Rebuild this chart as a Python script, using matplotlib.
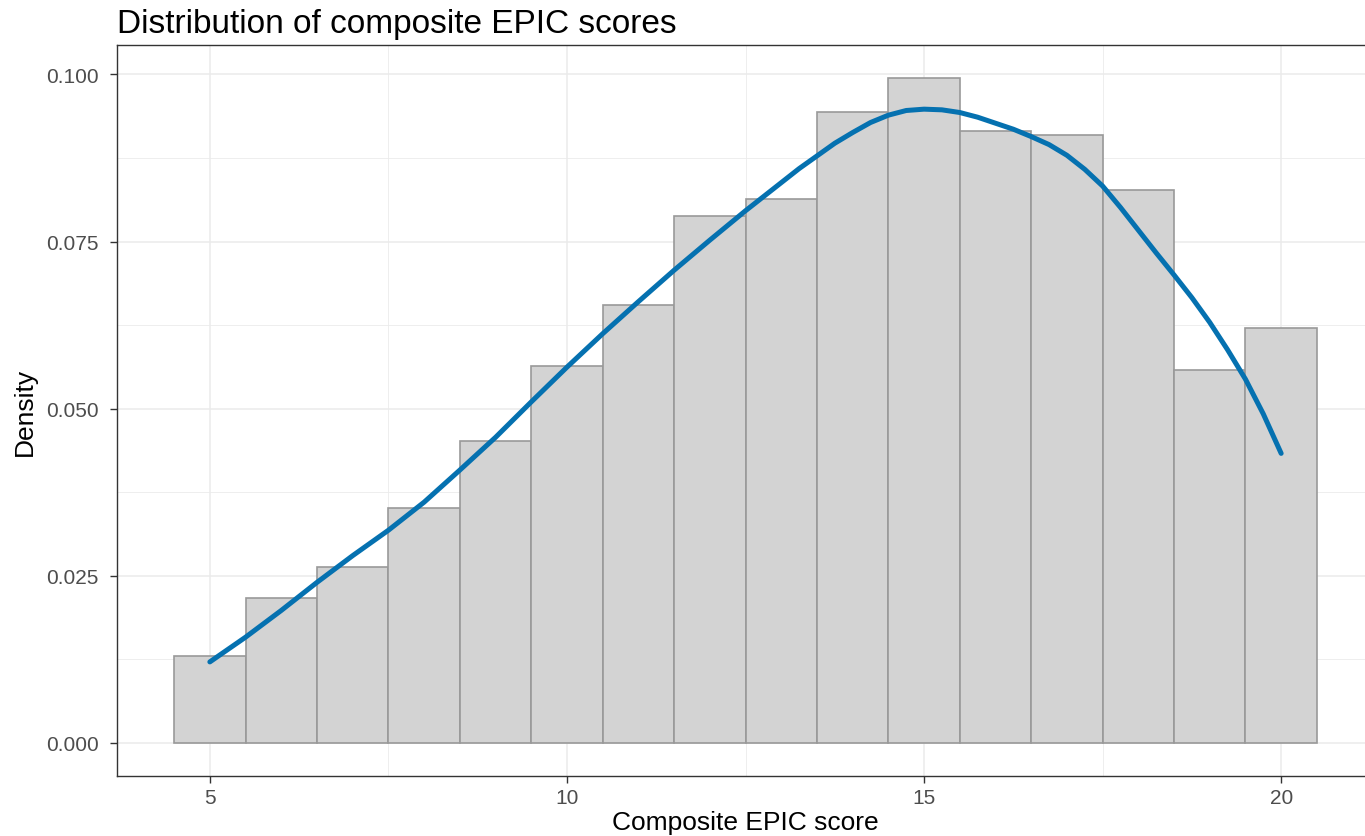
import matplotlib
matplotlib.use("Agg")
import matplotlib.pyplot as plt
from matplotlib.ticker import MultipleLocator

plt.rcParams['font.family'] = ['Liberation Sans', 'DejaVu Sans']

# histogram (bin width 1, centred on integer scores), density scale
bin_centers = [5, 6, 7, 8, 9, 10, 11, 12, 13, 14, 15, 16, 17, 18, 19, 20]
bin_density = [0.0130, 0.0216, 0.0263, 0.0352, 0.0451, 0.0564, 0.0655, 0.0788,
               0.0813, 0.0944, 0.0994, 0.0916, 0.0910, 0.0827, 0.0558, 0.0620]

# density curve
curve_x = [5.0, 5.5, 6.0, 6.5, 7.0, 7.5, 8.0, 8.5, 9.0, 9.5, 10.0, 10.5,
           11.0, 11.5, 12.0, 12.5, 13.0, 13.25, 13.5, 13.75, 14.0, 14.25,
           14.5, 14.75, 15.0, 15.25, 15.5, 15.75, 16.0, 16.25, 16.5, 16.75,
           17.0, 17.25, 17.5, 17.75, 18.0, 18.25, 18.5, 18.75, 19.0, 19.25,
           19.5, 19.75, 20.0]
curve_y = [0.0121, 0.0158, 0.0198, 0.0240, 0.0280, 0.0318, 0.0360, 0.0408,
           0.0457, 0.0510, 0.0562, 0.0612, 0.0660, 0.0707, 0.0752, 0.0796,
           0.0838, 0.0859, 0.0878, 0.0897, 0.0913, 0.0928, 0.0939, 0.0946,
           0.0948, 0.0947, 0.0943, 0.0936, 0.0927, 0.0918, 0.0907, 0.0895,
           0.0879, 0.0858, 0.0833, 0.0801, 0.0767, 0.0733, 0.0700, 0.0666,
           0.0629, 0.0588, 0.0544, 0.0492, 0.0433]

x_ticks = [5, 10, 15, 20]
y_ticks = [0.000, 0.025, 0.050, 0.075, 0.100]

fig = plt.figure(figsize=(13.65, 8.37), dpi=100)
# panel runs a little past the right edge, as in the original
ax = fig.add_axes([117 / 1365, 60 / 837, 1257 / 1365, 731 / 837])

ax.bar(bin_centers, bin_density, width=1.0, color='#d3d3d3',
       edgecolor='#999999', linewidth=1.2, zorder=2)
ax.plot(curve_x, curve_y, color='#0571b0', linewidth=3.6,
        solid_capstyle='round', solid_joinstyle='round', zorder=3)

ax.set_xlim(3.7, 21.3)
ax.set_ylim(-0.00497, 0.1044)
ax.set_xticks(x_ticks)
ax.set_xticklabels([str(v) for v in x_ticks])
ax.set_yticks(y_ticks)
ax.set_yticklabels([f'{v:.3f}' for v in y_ticks])
ax.xaxis.set_minor_locator(MultipleLocator(2.5))
ax.yaxis.set_minor_locator(MultipleLocator(0.0125))

# theme_bw look
ax.grid(which='major', color='#ebebeb', linewidth=1.1, zorder=0)
ax.grid(which='minor', color='#ebebeb', linewidth=0.6, zorder=0)
ax.set_axisbelow(True)
for s in ax.spines.values():
    s.set_color('#333333')
    s.set_linewidth(1.0)
ax.tick_params(which='major', length=5, width=1.0, color='#333333',
               labelcolor='#4d4d4d', labelsize=15, pad=4)
ax.tick_params(axis='y', which='major', pad=8)
ax.tick_params(which='minor', length=0)

ax.set_xlabel('Composite EPIC score', fontsize=19, color='black')
ax.set_ylabel('Density', fontsize=19, color='black')
ax.xaxis.set_label_coords(0.5, -0.046)
ax.yaxis.set_label_coords(-0.0636, 0.5)
ax.set_title('Distribution of composite EPIC scores', fontsize=24,
             loc='left', pad=9)

fig.savefig('out.png', dpi=100)
